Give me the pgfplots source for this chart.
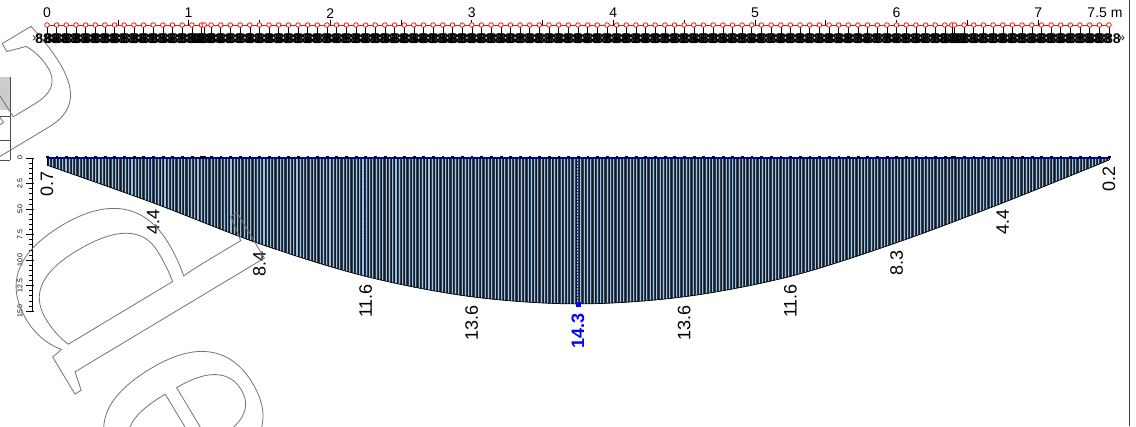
\documentclass[border=0pt]{standalone}
\usepackage{pgfplots}
\pgfplotsset{compat=1.18}
\usepackage{pgfplotstable}
\usetikzlibrary{patterns.meta}
\usepackage{fontspec}
\setmainfont{Liberation Sans}
\newfontfamily\wm{Liberation Serif}
\definecolor{hatchdark}{RGB}{50,64,82}
\definecolor{hatchlight}{RGB}{150,196,236}
\definecolor{zeroblue}{RGB}{0,0,160}
\definecolor{rulered}{RGB}{235,20,20}

% positions of the nodes along the beam (m)
\pgfplotstableread{
x
0
0.068
0.136
0.205
0.273
0.341
0.409
0.477
0.545
0.614
0.682
0.75
0.818
0.886
0.955
1.023
1.091
1.11
1.159
1.227
1.295
1.364
1.432
1.5
1.568
1.636
1.705
1.773
1.841
1.909
1.977
2.045
2.114
2.182
2.25
2.318
2.386
2.455
2.523
2.591
2.659
2.727
2.795
2.864
2.932
3.0
3.068
3.136
3.205
3.273
3.341
3.409
3.477
3.545
3.614
3.682
3.75
3.818
3.886
3.955
4.023
4.091
4.159
4.227
4.295
4.364
4.432
4.5
4.568
4.636
4.705
4.773
4.841
4.909
4.977
5.045
5.114
5.182
5.25
5.318
5.386
5.455
5.523
5.591
5.659
5.727
5.795
5.864
5.932
6.0
6.068
6.136
6.205
6.273
6.341
6.39
6.409
6.477
6.545
6.614
6.682
6.75
6.818
6.886
6.955
7.023
7.091
7.159
7.227
7.295
7.364
7.432
7.5
}\nodetab
\pgfplotstablecreatecol[create col/set={0}]{y}{\nodetab}

% deflection values (downwards)
\pgfplotstableread{
x y
0 -0.7
0.75 -4.4
1.5 -8.4
2.25 -11.6
3.0 -13.6
3.75 -14.3
4.5 -13.6
5.25 -11.6
6.0 -8.3
6.75 -4.4
7.5 -0.2
}\deftab

\begin{document}
\begin{tikzpicture}
\begin{axis}[
  width=1136pt, height=426pt, scale only axis,
  xmin=-0.332, xmax=7.691, ymin=-26.27, ymax=15.49,
  hide axis, clip=false,
]
\coordinate (SW) at (rel axis cs:0,0);
\coordinate (NE) at (rel axis cs:1,1);

% ---- left grey box (cut off table)
\fill[gray!40] (axis cs:-0.332,7.94) rectangle (axis cs:-0.261,4.71);
\draw[black!70, line width=0.6pt] (axis cs:-0.261,7.94) -- (axis cs:-0.261,-0.2);
\draw[black!70, line width=0.6pt] (axis cs:-0.332,4.12) -- (axis cs:-0.261,4.12);
\draw[black!70, line width=0.6pt] (axis cs:-0.332,1.76) -- (axis cs:-0.261,1.76);
\draw[black!70, line width=0.6pt] (axis cs:-0.332,-0.2) -- (axis cs:-0.261,-0.2);

% ---- right frame line
\draw[black!75, line width=0.8pt] (axis cs:7.641,15.49) -- (axis cs:7.641,-26.27);

% ---- deflection area
\addplot[draw=none, fill=hatchdark, smooth, tension=0.55,
  postaction={pattern={Lines[angle=90,distance=3.3pt,line width=1.05pt]}, pattern color=hatchlight},
  postaction={pattern={Lines[angle=90,distance=3.3pt,line width=0.6pt,xshift=1.65pt]}, pattern color=black!90}]
  table[x=x, y=y] {\deftab} -- (axis cs:7.5,0) -- (axis cs:0,0) -- cycle;
\addplot[black, line width=0.7pt, smooth, tension=0.55] table[x=x, y=y] {\deftab};
\draw[black, line width=0.7pt] (axis cs:0,0) -- (axis cs:0,-0.7);
\draw[black, line width=0.7pt] (axis cs:7.5,0) -- (axis cs:7.5,-0.2);

% dotted lines at some sections
\draw[blue!60!black, dotted, line width=0.6pt] (axis cs:0.75,0) -- (axis cs:0.75,-4.4);
\draw[blue!60!black, dotted, line width=0.6pt] (axis cs:2.25,0) -- (axis cs:2.25,-11.6);
\draw[blue, dotted, line width=1pt] (axis cs:3.75,0) -- (axis cs:3.75,-14.3);
\addplot[only marks, mark=square*, mark size=2pt, blue] coordinates {(3.75,-14.3)};

% zero line with node dots
\addplot[zeroblue, line width=1.6pt] coordinates {(0,0) (7.5,0)};
\addplot[only marks, mark=square*, mark size=0.9pt, black] table[x=x, y expr=0.12] {\nodetab};

% ---- value labels
\begin{scope}[every node/.style={font=\fontsize{18}{20}\selectfont, inner sep=0.5pt}]
\node[yshift=-6pt, rotate=90, anchor=east] at (axis cs:0,-0.7) {0.7};
\node[yshift=-6pt, rotate=90, anchor=east] at (axis cs:0.75,-4.4) {4.4};
\node[yshift=-7pt, rotate=90, anchor=east] at (axis cs:1.5,-8.4) {8.4};
\node[yshift=-7pt, rotate=90, anchor=east] at (axis cs:2.25,-11.6) {11.6};
\node[yshift=-8pt, rotate=90, anchor=east] at (axis cs:3.0,-13.6) {13.6};
\node[yshift=-9pt, rotate=90, anchor=east, text=blue, font=\fontsize{18}{20}\selectfont\bfseries] at (axis cs:3.75,-14.3) {14.3};
\node[yshift=-8pt, rotate=90, anchor=east] at (axis cs:4.5,-13.6) {13.6};
\node[yshift=-7pt, rotate=90, anchor=east] at (axis cs:5.25,-11.6) {11.6};
\node[yshift=-7pt, rotate=90, anchor=east] at (axis cs:6.0,-8.3) {8.3};
\node[yshift=-6pt, rotate=90, anchor=east] at (axis cs:6.75,-4.4) {4.4};
\node[yshift=-6pt, rotate=90, anchor=east] at (axis cs:7.5,-0.2) {0.2};
\end{scope}

% ---- left vertical scale
\draw[black, line width=0.7pt] (axis cs:-0.106,0) -- (axis cs:-0.106,-15);
\pgfplotsinvokeforeach{0.5,1,...,14.5}{
  \draw[black, line width=0.5pt] (axis cs:-0.106,-#1) -- (axis cs:-0.124,-#1);
}
\pgfplotsinvokeforeach{0,2.5,5,7.5,10,12.5,15}{
  \draw[black, line width=0.6pt] (axis cs:-0.093,-#1) -- (axis cs:-0.148,-#1);
}
\begin{scope}[every node/.style={font=\fontsize{7}{8}\selectfont, rotate=90, inner sep=0pt}]
\node at (axis cs:-0.191,0) {0};
\node at (axis cs:-0.191,-2.5) {2.5};
\node at (axis cs:-0.191,-5) {5.0};
\node at (axis cs:-0.191,-7.5) {7.5};
\node at (axis cs:-0.191,-10) {10.0};
\node at (axis cs:-0.191,-12.5) {12.5};
\node at (axis cs:-0.191,-15) {15.0};
\end{scope}

% ---- top ruler
\addplot[black, line width=0.5pt, only marks, mark=|, mark size=4pt,
  mark options={yshift=-4pt}] table[x=x, y expr=13.04] {\nodetab};
\addplot[draw=none, mark=none, nodes near coords={\textbf{888}},
  every node near coord/.style={anchor=center, inner sep=0pt, font=\fontsize{14}{14}\selectfont}]
  table[x=x, y expr=11.7] {\nodetab};
\node[font=\fontsize{12}{12}\selectfont, inner sep=0pt] at (axis cs:-0.08,11.7) {»};
\node[font=\fontsize{12}{12}\selectfont, inner sep=0pt] at (axis cs:7.59,11.7) {»};
\addplot[rulered, line width=0.8pt] coordinates {(0,13.04) (7.5,13.04)};
\addplot[black, line width=0.6pt, only marks, mark=|, mark size=2.5pt,
  mark options={yshift=2.5pt}] coordinates {(0.5,13.04) (1,13.04) (1.5,13.04) (2,13.04) (2.5,13.04) (3,13.04) (3.5,13.04) (4,13.04) (4.5,13.04) (5,13.04) (5.5,13.04) (6,13.04) (6.5,13.04) (7,13.04)};
\addplot[rulered, only marks, mark=*, mark size=2.3pt, mark options={fill=white, line width=0.8pt}] table[x=x, y expr=13.04] {\nodetab};
\begin{scope}[every node/.style={font=\fontsize{14}{16}\selectfont, inner sep=0pt}]
\node at (axis cs:0,14.2) {0};
\node at (axis cs:1,14.2) {1};
\node at (axis cs:2,14.2) {2};
\node at (axis cs:3,14.2) {3};
\node at (axis cs:4,14.2) {4};
\node at (axis cs:5,14.2) {5};
\node at (axis cs:6,14.2) {6};
\node at (axis cs:7,14.2) {7};
\node at (axis cs:7.472,14.2) {7.5 m};
\end{scope}

% ---- watermark (outlined letters)
\node[rotate=-59, text=black!55, inner sep=0pt, anchor=base west,
  font=\wm\fontsize{335}{335}\selectfont] at (axis cs:-0.398,-9.39)
  {\special{pdf:literal direct 1 Tr 0.8 w}de\special{pdf:literal direct 0 Tr}};
\node[rotate=-59, text=black!55, inner sep=0pt, anchor=base east,
  font=\wm\fontsize{335}{335}\selectfont] at (axis cs:-0.596,-4.78)
  {\special{pdf:literal direct 1 Tr 0.8 w}a\special{pdf:literal direct 0 Tr}};
\end{axis}
\pgfresetboundingbox
\path[use as bounding box] (SW) rectangle (NE);
\end{tikzpicture}
\end{document}
